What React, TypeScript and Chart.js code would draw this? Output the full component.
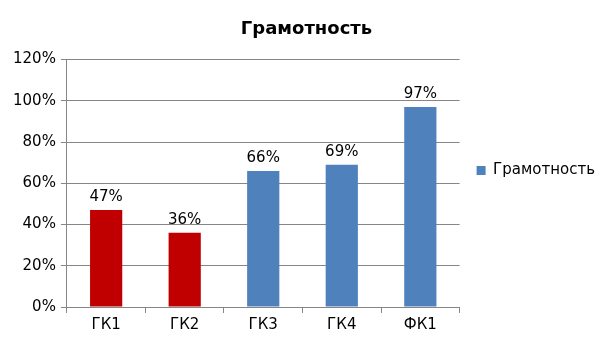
import React, { useEffect, useRef } from "react";
import { Chart, registerables } from "chart.js";

Chart.register(...registerables);

const categories = ["ГК1", "ГК2", "ГК3", "ГК4", "ФК1"];
const values = [47, 36, 66, 69, 97];
const seriesName = "Грамотность";
const yTicks = [0, 20, 40, 60, 80, 100, 120];

const RED = "#C00000";
const BLUE = "#4F81BD";
const barColors = [RED, RED, BLUE, BLUE, BLUE];
const GRID = "#868686";
const FONT = "'DejaVu Sans', sans-serif";

const dataLabelPlugin = {
  id: "dataLabels",
  afterDatasetsDraw(chart: any) {
    const ctx = chart.ctx;
    const meta = chart.getDatasetMeta(0);
    ctx.save();
    ctx.font = `15px ${FONT}`;
    ctx.fillStyle = "#000";
    ctx.textAlign = "center";
    ctx.textBaseline = "bottom";
    meta.data.forEach((bar: any, i: number) => {
      const v = chart.data.datasets[0].data[i];
      ctx.fillText(`${v}%`, bar.x, bar.y - 5);
    });
    ctx.restore();
  },
};

export default function App() {
  const ref = useRef<HTMLCanvasElement | null>(null);

  useEffect(() => {
    document.body.style.margin = "0";
    if (!ref.current) return;
    const chart = new Chart(ref.current, {
      type: "bar",
      data: {
        labels: categories,
        datasets: [
          {
            label: seriesName,
            data: values,
            backgroundColor: barColors,
            borderWidth: 0,
            barPercentage: 0.41,
            categoryPercentage: 1,
          },
        ],
      },
      options: {
        responsive: false,
        animation: false,
        devicePixelRatio: 1,
        layout: { padding: { left: 8, right: 0, top: 4, bottom: 3 } },
        plugins: {
          title: {
            display: true,
            text: seriesName,
            color: "#000",
            font: { family: FONT, size: 18, weight: "bold" },
            padding: { top: 15, bottom: 19 },
          },
          legend: {
            display: true,
            position: "right",
            align: "center",
            labels: {
              boxWidth: 9,
              boxHeight: 9,
              padding: 17,
              color: "#000",
              font: { family: FONT, size: 15 },
              generateLabels: () => [
                {
                  text: seriesName,
                  fillStyle: BLUE,
                  strokeStyle: BLUE,
                  lineWidth: 0,
                  hidden: false,
                  datasetIndex: 0,
                },
              ],
            },
          },
          tooltip: { enabled: false },
        },
        scales: {
          x: {
            grid: {
              display: true,
              drawOnChartArea: false,
              drawTicks: true,
              tickLength: 6,
              color: GRID,
              offset: true,
            },
            border: { display: true, color: GRID },
            ticks: {
              color: "#000",
              font: { family: FONT, size: 15 },
              padding: 3,
            },
          },
          y: {
            min: 0,
            max: 120,
            afterBuildTicks: (scale: any) => {
              scale.ticks = yTicks.map((v) => ({ value: v }));
            },
            grid: {
              display: true,
              drawOnChartArea: true,
              drawTicks: true,
              tickLength: 6,
              color: GRID,
            },
            border: { display: true, color: GRID },
            ticks: {
              color: "#000",
              font: { family: FONT, size: 15 },
              padding: 5,
              callback: (v: any) => `${v}%`,
            },
          },
        },
      },
      plugins: [dataLabelPlugin],
    });
    return () => chart.destroy();
  }, []);

  return (
    <div style={{ width: 605, height: 340 }}>
      <canvas ref={ref} width={605} height={340} />
    </div>
  );
}
